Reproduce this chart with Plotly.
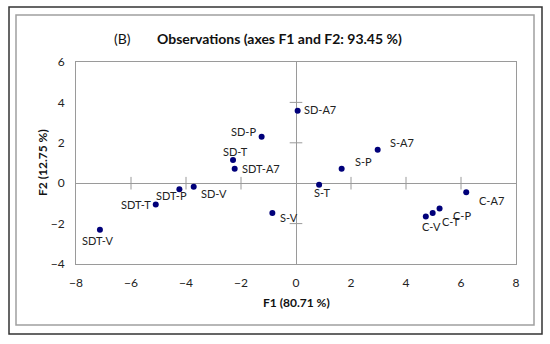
import plotly.graph_objects as go

# ---- data ----
labels = ["SD-A7", "SD-P", "SD-T", "SDT-A7", "SD-V", "SDT-P", "SDT-T", "SDT-V",
          "S-V", "S-T", "S-P", "S-A7", "C-A7", "C-P", "C-T", "C-V"]
f1 = [0.06, -1.25, -2.29, -2.23, -3.72, -4.24, -5.10, -7.13,
      -0.86, 0.84, 1.66, 2.97, 6.19, 5.22, 4.97, 4.72]
f2 = [3.59, 2.30, 1.15, 0.71, -0.18, -0.30, -1.05, -2.31,
      -1.47, -0.08, 0.72, 1.66, -0.45, -1.25, -1.47, -1.65]
x_ticks = [-8, -6, -4, -2, 0, 2, 4, 6, 8]
y_ticks = [-4, -2, 0, 2, 4, 6]
title_text = "Observations (axes F1 and F2: 93.45 %)"
panel_text = "(B)"
x_title = "F1 (80.71 %)"
y_title = "F2 (12.75 %)"

# ---- label placement (styling) ----
label_place = {
    "SD-A7": ("left", 4, 1), "SD-P": ("right", -4, 5), "SD-T": ("center", 2, 8),
    "SDT-A7": ("left", 5, 0), "SD-V": ("left", 5, -7), "SDT-P": ("center", -8, -6),
    "SDT-T": ("right", -3, 0), "SDT-V": ("center", -2, -11), "S-V": ("left", 6, -5),
    "S-T": ("center", 3, -8), "S-P": ("left", 11, 7), "S-A7": ("left", 10, 7),
    "C-A7": ("left", 11, -8), "C-P": ("left", 11, -7), "C-T": ("left", 7, -9),
    "C-V": ("center", 6, -10),
}

FONT = "Lato"
GREY = "#9a9a9a"
L, R, T, B = 76, 516, 62, 264
PW, PH = R - L, B - T


def px(x):
    return (x - L) / PW


def py(y):
    return (B - y) / PH


fig = go.Figure()

# cross tick marks on the zero axes
xt_inner = [t for t in x_ticks if t not in (min(x_ticks), max(x_ticks), 0)]
yt_inner = [t for t in y_ticks if t not in (min(y_ticks), max(y_ticks), 0)]
fig.add_trace(go.Scatter(x=xt_inner, y=[0] * len(xt_inner), mode="markers",
                         marker=dict(symbol="line-ns", size=9,
                                     line=dict(color=GREY, width=1)),
                         hoverinfo="skip", showlegend=False))
fig.add_trace(go.Scatter(x=[0] * len(yt_inner), y=yt_inner, mode="markers",
                         marker=dict(symbol="line-ew", size=9,
                                     line=dict(color=GREY, width=1)),
                         hoverinfo="skip", showlegend=False))

fig.add_trace(go.Scatter(x=f1, y=f2, mode="markers", text=labels,
                         marker=dict(color="#00007a", size=6),
                         showlegend=False))

for lab, x, y in zip(labels, f1, f2):
    anchor, dx, dy = label_place[lab]
    fig.add_annotation(x=x, y=y, text=lab, showarrow=False, xanchor=anchor,
                       yanchor="middle", xshift=dx, yshift=dy,
                       font=dict(family=FONT, size=11, color="#222"))

# titles
fig.add_annotation(xref="paper", yref="paper", x=px(122), y=py(39),
                   text=panel_text, showarrow=False, xanchor="center", yanchor="middle",
                   font=dict(family=FONT, size=14, color="#111"))
fig.add_annotation(xref="paper", yref="paper", x=px(279), y=py(39),
                   text="<b>" + title_text + "</b>", showarrow=False,
                   xanchor="center", yanchor="middle",
                   font=dict(family=FONT, size=14, color="#111"))
fig.add_annotation(xref="paper", yref="paper", x=px(296), y=py(302),
                   text="<b>" + x_title + "</b>", showarrow=False,
                   xanchor="center", yanchor="middle",
                   font=dict(family=FONT, size=12, color="#111"))
fig.add_annotation(xref="paper", yref="paper", x=px(42), y=py(163),
                   text="<b>" + y_title + "</b>", showarrow=False, textangle=-90,
                   xanchor="center", yanchor="middle",
                   font=dict(family=FONT, size=12, color="#111"))

# frames
fig.add_shape(type="rect", xref="paper", yref="paper",
              x0=px(9), x1=px(542), y0=py(334), y1=py(7),
              line=dict(color="#333", width=1.5), layer="below")
fig.add_shape(type="rect", xref="paper", yref="paper",
              x0=px(16), x1=px(534), y0=py(325), y1=py(15),
              line=dict(color="#a0a0a0", width=1.5), layer="below")

axis_common = dict(showgrid=False, showline=True, mirror=True, linecolor=GREY,
                   linewidth=1, zeroline=True, zerolinecolor=GREY, zerolinewidth=1,
                   ticks="", automargin=False,
                   tickfont=dict(family=FONT, size=12, color="#222"),
                   ticklabelstandoff=8)
fig.update_xaxes(range=[min(x_ticks), max(x_ticks)], tickvals=x_ticks, **axis_common)
fig.update_yaxes(range=[min(y_ticks), max(y_ticks)], tickvals=y_ticks, **axis_common)

fig.update_layout(width=550, height=344,
                  margin=dict(l=L, r=550 - R, t=T, b=344 - B, autoexpand=False),
                  paper_bgcolor="white", plot_bgcolor="white",
                  font=dict(family=FONT))

fig.write_html("out.html", config={"displayModeBar": False},
               post_script="document.body.style.margin='0';"
                           "document.body.style.overflow='hidden';")
